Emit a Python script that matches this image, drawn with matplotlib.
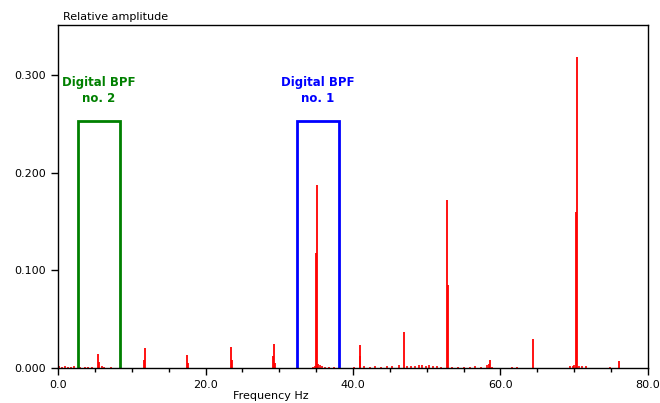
import matplotlib.pyplot as plt
from matplotlib.ticker import MultipleLocator, FormatStrFormatter

# harmonic peaks (Hz, relative amplitude)
peak_freq = [5.4, 5.5, 11.8, 11.7, 17.5, 17.6, 23.5, 23.6, 29.3, 29.2, 29.4,
             35.15, 35.0, 35.3, 41.0, 40.9, 46.9, 52.75, 52.85, 58.6, 58.5,
             64.4, 70.35, 70.25, 76.1]
peak_amp = [0.014, 0.006, 0.020, 0.008, 0.013, 0.005, 0.021, 0.008, 0.025, 0.012, 0.005,
            0.187, 0.118, 0.004, 0.024, 0.012, 0.037, 0.172, 0.085, 0.008, 0.004,
            0.030, 0.318, 0.160, 0.007]

# low level noise floor
noise_freq = [0.2, 0.5, 0.9, 1.3, 1.8, 2.2, 3.0, 3.6, 4.1, 4.6, 5.9, 6.3, 7.2,
              34.6, 34.9, 35.5, 35.8, 36.2, 36.7, 37.4,
              40.1, 41.5, 42.3, 43.0, 43.8, 44.6, 45.3, 46.2, 47.3, 47.8, 48.4,
              48.9, 49.4, 49.9, 50.3, 50.8, 51.4, 52.0, 53.4, 54.2, 55.0, 55.8,
              56.6, 57.4, 58.2, 58.9, 61.6, 62.3, 69.4, 69.8, 70.0, 70.6, 71.0, 71.6, 74.9]
noise_amp = [0.002, 0.001, 0.002, 0.001, 0.001, 0.002, 0.001, 0.001, 0.001, 0.001, 0.002, 0.001, 0.001,
             0.001, 0.002, 0.003, 0.002, 0.001, 0.001, 0.001,
             0.001, 0.002, 0.001, 0.002, 0.001, 0.002, 0.002, 0.003, 0.002, 0.002, 0.002,
             0.003, 0.003, 0.002, 0.003, 0.002, 0.002, 0.001, 0.001, 0.001, 0.001, 0.001,
             0.002, 0.001, 0.003, 0.001, 0.001, 0.001, 0.002, 0.002, 0.003, 0.002, 0.002, 0.002, 0.001]

# band pass filter windows
bpf_labels = ["Digital BPF\nno. 2", "Digital BPF\nno. 1"]
bpf_lo = [2.7, 32.4]
bpf_hi = [8.4, 38.1]
bpf_top = 0.253
bpf_colors = ["#008000", "#0000ff"]

fig = plt.figure(figsize=(6.6, 4.03), dpi=100)
ax = fig.add_axes([0.0879, 0.0868, 0.8939, 0.8512])

ax.vlines(noise_freq, 0, noise_amp, color="red", lw=1.2)
ax.vlines(peak_freq, 0, peak_amp, color="red", lw=1.3)

for lab, lo, hi, c in zip(bpf_labels, bpf_lo, bpf_hi, bpf_colors):
    ax.plot([lo, lo, hi, hi], [0, bpf_top, bpf_top, 0], color=c, lw=2, solid_joinstyle="miter")
    ax.text((lo + hi) / 2, 0.269, lab, color=c, fontsize=8.5, fontweight="bold",
            ha="center", va="bottom", linespacing=1.3)

ax.set_xlim(0, 80)
ax.set_ylim(0, 0.351)
ax.xaxis.set_major_locator(MultipleLocator(20))
ax.xaxis.set_minor_locator(MultipleLocator(5))
ax.yaxis.set_major_locator(MultipleLocator(0.1))
ax.xaxis.set_major_formatter(FormatStrFormatter("%.1f"))
ax.yaxis.set_major_formatter(FormatStrFormatter("%.3f"))
ax.tick_params(which="major", length=5, width=1, labelsize=8, color="black")
ax.tick_params(which="minor", length=3, width=1)
for s in ax.spines.values():
    s.set_linewidth(1)

fig.text(0.095, 0.945, "Relative amplitude", fontsize=8, ha="left", va="bottom")
fig.text(0.411, 0.005, "Frequency Hz", fontsize=8, ha="center", va="bottom")

fig.savefig("out.png", dpi=100)
